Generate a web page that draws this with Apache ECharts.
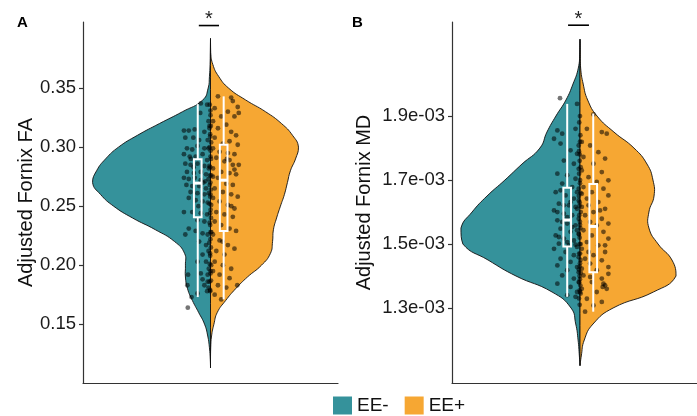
<!DOCTYPE html>
<html><head><meta charset="utf-8">
<script src="https://cdn.jsdelivr.net/npm/echarts@6/dist/echarts.min.js"></script>
<style>html,body{margin:0;padding:0;background:#fff}#c{width:697px;height:416px}</style>
</head><body><div id="c"></div>
<script>
// ---------- data ----------
const groups = ['EE-', 'EE+'];
const groupColors = ['#35929b', '#f6a733'];

const faTicks = [0.15, 0.20, 0.25, 0.30, 0.35];
const mdTicks = [1.3e-3, 1.5e-3, 1.7e-3, 1.9e-3];

// violin density outlines (value grid, top to bottom; half-width in x units)
const faGrid = [0.392,0.38,0.37,0.36,0.35,0.34,0.33,0.32,0.31,0.30,0.29,0.28,0.27,0.26,0.25,0.24,0.23,0.22,0.21,0.20,0.19,0.18,0.17,0.16,0.15,0.14,0.13,0.12,0.113];
const faDensMinus = [0,0.001,0.002,0.005,0.011,0.036,0.132,0.240,0.344,0.433,0.494,0.536,0.555,0.518,0.456,0.367,0.259,0.169,0.122,0.118,0.118,0.108,0.085,0.056,0.028,0.013,0.005,0.001,0];
const faDensPlus  = [0,0.001,0.011,0.038,0.085,0.165,0.259,0.334,0.386,0.414,0.400,0.376,0.362,0.348,0.329,0.311,0.296,0.292,0.282,0.240,0.174,0.118,0.071,0.032,0.016,0.005,0.001,0,0];

// MD values in units of 1e-3
const mdGrid = [2.14,2.10,2.05,2.00,1.95,1.90,1.85,1.80,1.75,1.70,1.65,1.60,1.55,1.50,1.45,1.40,1.35,1.30,1.25,1.20,1.15,1.12];
const mdDensMinus = [0,0.001,0.008,0.033,0.066,0.113,0.155,0.188,0.272,0.352,0.436,0.506,0.558,0.549,0.431,0.300,0.131,0.042,0.020,0.009,0.003,0];
const mdDensPlus  = [0,0.001,0.003,0.015,0.036,0.080,0.159,0.253,0.314,0.342,0.347,0.323,0.323,0.366,0.431,0.450,0.344,0.155,0.061,0.020,0.006,0];

// box stats: [lower whisker, Q1, median, Q3, upper whisker]
const faBoxMinus = [0.173, 0.2407, 0.2695, 0.2898, 0.3364];
const faBoxPlus  = [0.171, 0.229, 0.272, 0.3020, 0.343];
const mdBoxMinus = [1.335, 1.492, 1.575, 1.676, 1.938];
const mdBoxPlus  = [1.2885, 1.412, 1.555, 1.6875, 1.908];

// observations: [jitter (-1..1), value]
const faPtsMinus = [[0.22,0.337],[0.68,0.336],[0.18,0.329],[-1.0,0.314],[-0.65,0.314],[-0.22,0.315],[0.48,0.313],[0.78,0.322],[0.85,0.316],[-0.9,0.308],[-0.32,0.308],[0.1,0.306],[0.72,0.306],[-0.78,0.299],[-0.4,0.298],[-0.02,0.301],[0.48,0.299],[0.78,0.299],[-1.0,0.294],[-0.58,0.292],[-0.15,0.292],[0.35,0.294],[0.68,0.289],[-0.9,0.286],[-0.52,0.285],[-0.02,0.286],[0.48,0.284],[0.8,0.282],[-0.78,0.279],[-0.28,0.278],[0.22,0.279],[0.6,0.277],[-1.0,0.274],[-0.65,0.273],[-0.22,0.274],[0.22,0.272],[0.78,0.273],[-0.82,0.268],[-0.4,0.267],[0.1,0.267],[0.6,0.265],[-0.52,0.262],[-0.02,0.261],[0.48,0.260],[0.8,0.261],[-0.65,0.257],[-0.15,0.255],[0.35,0.254],[0.72,0.253],[-1.0,0.245],[-0.4,0.245],[0.22,0.244],[0.68,0.243],[-0.02,0.238],[0.48,0.237],[-0.65,0.231],[-0.15,0.229],[0.35,0.227],[0.72,0.226],[-0.9,0.226],[0.1,0.220],[0.6,0.217],[0.78,0.212],[0.35,0.209],[-0.02,0.203],[0.6,0.203],[0.8,0.197],[-0.7,0.192],[0.22,0.193],[0.72,0.192],[-0.75,0.183],[0.48,0.183],[0.78,0.181],[-0.45,0.173],[-0.02,0.176],[0.68,0.178],[-0.72,0.164],[0.72,0.186],[0.35,0.188],
  [0.92,0.331],[0.95,0.318],[0.9,0.311],[0.97,0.304],[0.93,0.297],[0.96,0.290],[0.9,0.283],[0.98,0.276],[0.92,0.270],[0.95,0.264],[0.9,0.258],[0.97,0.251],[0.93,0.247],[0.96,0.240],[0.9,0.234],[0.98,0.228],[0.92,0.222],[0.95,0.215],[0.9,0.208],[0.97,0.200],[0.93,0.195],[0.96,0.187],[0.9,0.179],[0.55,0.271],[-0.3,0.283],[0.05,0.250],[-0.5,0.290],[0.4,0.270]];
const faPtsPlus = [[-0.40,0.343],[0.49,0.342],[0.60,0.339],[0.93,0.334],[-0.62,0.333],[0.27,0.330],[0.71,0.326],[-0.18,0.326],[-0.73,0.322],[1.0,0.329],[0.16,0.319],[-0.40,0.316],[0.49,0.313],[0.82,0.310],[-0.62,0.308],[-0.07,0.303],[0.38,0.305],[0.93,0.302],[-0.73,0.299],[-0.29,0.296],[0.27,0.295],[0.71,0.294],[-0.51,0.291],[0.04,0.288],[0.60,0.285],[1.0,0.285],[-0.73,0.282],[-0.18,0.279],[0.38,0.278],[0.82,0.277],[-0.40,0.274],[0.71,0.281],[0.38,0.289],[-0.73,0.275],[0.16,0.269],[0.60,0.268],[-0.62,0.265],[-0.07,0.262],[0.49,0.260],[0.93,0.258],[-0.73,0.257],[-0.29,0.254],[0.27,0.251],[0.71,0.248],[-0.51,0.245],[0.04,0.243],[0.60,0.241],[-0.62,0.237],[-0.18,0.234],[0.38,0.231],[0.82,0.229],[-0.73,0.226],[-0.29,0.221],[0.27,0.217],[0.71,0.214],[-0.51,0.212],[0.04,0.209],[-0.62,0.203],[-0.07,0.200],[0.49,0.197],[-0.73,0.195],[-0.29,0.192],[0.38,0.189],[-0.40,0.183],[0.16,0.181],[-0.62,0.175],[-0.18,0.171],[0.9,0.183],
  [-0.95,0.336],[-0.9,0.327],[-0.97,0.318],[-0.92,0.309],[-0.96,0.300],[-0.9,0.292],[-0.98,0.284],[-0.93,0.276],[-0.95,0.268],[-0.9,0.260],[-0.97,0.252],[-0.92,0.244],[-0.96,0.236],[-0.9,0.228],[-0.98,0.219],[-0.93,0.210],[-0.95,0.201],[-0.9,0.193],[-0.97,0.186],[-0.92,0.178],[0.2,0.290],[0.5,0.250],[-0.1,0.220]];
const mdPtsMinus = [[-0.52,1.956],[0.71,1.938],[-0.71,1.855],[-0.36,1.845],[-0.95,1.829],[-0.48,1.814],[0.60,1.860],[0.83,1.808],[0.24,1.793],[0.71,1.782],[-0.24,1.761],[0.48,1.751],[0.83,1.735],[-0.71,1.720],[0.0,1.715],[0.60,1.704],[-0.36,1.689],[0.36,1.678],[0.83,1.673],[-0.83,1.662],[-0.12,1.652],[0.48,1.642],[0.83,1.636],[-0.60,1.626],[0.12,1.621],[0.71,1.610],[-0.95,1.605],[-0.24,1.595],[0.36,1.590],[-0.48,1.668],[0.24,1.631],[0.60,1.616],[-0.71,1.600],[0.0,1.584],[0.71,1.662],[-0.24,1.621],[0.83,1.579],[-0.71,1.574],[0.0,1.564],[0.60,1.558],[-0.48,1.548],[0.24,1.538],[0.83,1.532],[-0.83,1.527],[-0.24,1.517],[0.48,1.511],[-0.60,1.501],[0.12,1.496],[-0.36,1.569],[0.36,1.553],[0.71,1.543],[-0.60,1.522],[0.0,1.506],[0.60,1.498],[0.71,1.491],[-0.95,1.485],[-0.12,1.475],[0.48,1.465],[0.83,1.459],[-0.48,1.454],[0.24,1.444],[-0.71,1.433],[0.71,1.428],[0.0,1.418],[0.83,1.412],[-0.36,1.402],[0.48,1.392],[0.83,1.381],[-0.71,1.376],[0.24,1.366],[0.71,1.350],[0.0,1.340],[0.60,1.335],
  [0.92,1.900],[0.95,1.840],[0.9,1.780],[0.97,1.740],[0.93,1.700],[0.96,1.660],[0.9,1.630],[0.98,1.600],[0.92,1.570],[0.95,1.550],[0.9,1.520],[0.97,1.500],[0.93,1.470],[0.96,1.450],[0.9,1.430],[0.98,1.410],[0.92,1.390],[0.95,1.370],[0.9,1.355],[0.97,1.345]];
const mdPtsPlus = [[0,1.905],[-0.44,1.860],[0.56,1.850],[-0.78,1.819],[0.89,1.845],[-0.22,1.808],[0.33,1.787],[-0.67,1.772],[0.78,1.767],[0,1.751],[-0.78,1.730],[0.56,1.725],[-0.33,1.709],[1.0,1.699],[0.22,1.694],[-0.67,1.678],[0.67,1.673],[-0.11,1.662],[1.0,1.652],[-0.44,1.642],[0.33,1.631],[-0.78,1.616],[0.78,1.610],[0,1.600],[-0.56,1.590],[0.56,1.579],[-0.22,1.569],[1.0,1.564],[0.22,1.558],[-0.78,1.657],[0.44,1.605],[-0.33,1.621],[-0.67,1.543],[0.67,1.538],[-0.11,1.527],[1.0,1.517],[-0.44,1.506],[0.33,1.496],[-0.78,1.485],[0.78,1.475],[0,1.465],[-0.56,1.454],[0.56,1.449],[-0.22,1.439],[1.0,1.428],[0.22,1.418],[-0.78,1.423],[0.78,1.496],[-0.33,1.475],[-0.67,1.402],[0.56,1.392],[0.67,1.376],[0.78,1.371],[0.62,1.366],[0.89,1.360],[-0.11,1.381],[-0.78,1.360],[0.22,1.350],[-0.44,1.329],[0,1.308],[0.56,1.319],[-0.56,1.2885],[1.0,1.407],[-0.22,1.397],
  [-0.95,1.880],[-0.9,1.820],[-0.97,1.790],[-0.92,1.760],[-0.96,1.720],[-0.9,1.690],[-0.98,1.650],[-0.93,1.620],[-0.95,1.590],[-0.9,1.560],[-0.97,1.530],[-0.92,1.500],[-0.96,1.470],[-0.9,1.440],[-0.98,1.420],[-0.93,1.400],[-0.95,1.380],[-0.9,1.350],[-0.97,1.330],[-0.92,1.310]];

// significance annotations: [x-from, x-to, value] per panel
const faSig = [[0.945, 1.04, 0.403]];
const mdSig = [[0.944, 1.042, 2.184]];
const MD_UNIT = 1e-3;

// ---------- layout / style ----------
const CENTER = 1;
const BOX_OFF = [-0.06, 0.062];
const BOX_HALF = 0.018;
const PT_OFF = [-0.06, 0.063];
const PT_HALF = [0.065, 0.07];
const FONT = 'Liberation Sans, Arial, Helvetica, sans-serif';
const AXIS_COLOR = '#333';

function violin(name, color, gi, grid, dens, side, scale) {
  return {
    type: 'custom', name: name, xAxisIndex: gi, yAxisIndex: gi, silent: true,
    itemStyle: { color: color }, z: 1,
    data: [[CENTER, grid[0] * scale]],
    renderItem: function (params, api) {
      const pts = grid.map(function (v, i) { return api.coord([CENTER + side * dens[i], v * scale]); });
      let minX = Infinity, minY = Infinity, maxX = -Infinity, maxY = -Infinity;
      pts.forEach(function (p) { minX = Math.min(minX, p[0]); maxX = Math.max(maxX, p[0]); minY = Math.min(minY, p[1]); maxY = Math.max(maxY, p[1]); });
      return { type: 'polygon', shape: { points: pts, smooth: 0.5, smoothConstraint: [[minX, minY], [maxX, maxY]] },
        style: { fill: color, stroke: '#111', lineWidth: 0.9 } };
    }
  };
}
function box(gi, stats, off, scale) {
  return {
    type: 'custom', name: 'box' + gi + off, xAxisIndex: gi, yAxisIndex: gi, silent: true, z: 4,
    data: [[CENTER + off, stats[2] * scale]],
    renderItem: function (params, api) {
      const x = CENTER + off;
      const s = stats.map(function (v) { return v * scale; });
      const lo = api.coord([x, s[0]]), q1 = api.coord([x - BOX_HALF, s[1]]), q3 = api.coord([x + BOX_HALF, s[3]]);
      const hi = api.coord([x, s[4]]), m1 = api.coord([x - BOX_HALF, s[2]]), m2 = api.coord([x + BOX_HALF, s[2]]);
      const st = { stroke: '#fff', lineWidth: 2, fill: null };
      return { type: 'group', children: [
        { type: 'line', shape: { x1: hi[0], y1: hi[1], x2: hi[0], y2: q3[1] }, style: st },
        { type: 'line', shape: { x1: lo[0], y1: q1[1], x2: lo[0], y2: lo[1] }, style: st },
        { type: 'rect', shape: { x: q1[0], y: q3[1], width: q3[0] - q1[0], height: q1[1] - q3[1] }, style: st },
        { type: 'line', shape: { x1: m1[0], y1: m1[1], x2: m2[0], y2: m2[1] }, style: { stroke: '#fff', lineWidth: 3 } }
      ] };
    }
  };
}
function points(gi, pts, k, scale) {
  return {
    type: 'scatter', name: 'pts' + gi + k, xAxisIndex: gi, yAxisIndex: gi, silent: true, z: 3,
    symbolSize: 4.8, itemStyle: { color: 'rgba(0,0,0,0.68)' },
    data: pts.map(function (p) { return [CENTER + PT_OFF[k] + p[0] * PT_HALF[k], p[1] * scale]; })
  };
}
function sig(gi, items, scale) {
  return {
    type: 'custom', name: 'sig' + gi, xAxisIndex: gi, yAxisIndex: gi, silent: true, z: 5,
    data: items.map(function (d) { return [d[0], d[1], d[2] * scale]; }),
    encode: { x: [0, 1], y: 2 },
    renderItem: function (params, api) {
      const a = api.coord([api.value(0), api.value(2)]);
      const b = api.coord([api.value(1), api.value(2)]);
      return { type: 'group', children: [
        { type: 'line', shape: { x1: a[0], y1: a[1], x2: b[0], y2: b[1] }, style: { stroke: '#000', lineWidth: 1.6 } },
        { type: 'text', x: (a[0] + b[0]) / 2, y: a[1] + 4, style: { text: '*', fontSize: 20, fontFamily: FONT, fill: '#222', align: 'center', verticalAlign: 'bottom' } }
      ] };
    }
  };
}
function yAxis(gi, min, max, ticks, name, gap, fmt) {
  return {
    gridIndex: gi, type: 'value', min: min, max: max,
    name: name, nameLocation: 'middle', nameGap: gap,
    nameTextStyle: { fontSize: 20, color: '#111', fontFamily: FONT },
    axisLine: { show: true, onZero: false, lineStyle: { color: AXIS_COLOR, width: 1.2 } },
    axisTick: { show: true, length: 4, customValues: ticks, lineStyle: { color: AXIS_COLOR, width: 1.2 } },
    axisLabel: { customValues: ticks, margin: 7, fontSize: 18.5, color: '#1a1a1a', fontFamily: FONT, formatter: fmt },
    splitLine: { show: false }
  };
}
function xAxis(gi, max) {
  return {
    gridIndex: gi, type: 'value', min: 0.4, max: max,
    axisLine: { show: true, onZero: false, lineStyle: { color: AXIS_COLOR, width: 1.2 } },
    axisTick: { show: false }, axisLabel: { show: false }, splitLine: { show: false }
  };
}

const chart = echarts.init(document.getElementById('c'), null, { renderer: 'canvas' });
chart.setOption({
  animation: false,
  backgroundColor: '#fff',
  textStyle: { fontFamily: FONT },
  title: [
    { text: 'A', left: 17, top: 15, padding: 0, textStyle: { fontSize: 15, fontWeight: 'bold', color: '#000', fontFamily: FONT } },
    { text: 'B', left: 352, top: 15, padding: 0, textStyle: { fontSize: 15, fontWeight: 'bold', color: '#000', fontFamily: FONT } }
  ],
  legend: {
    data: groups, left: 333, top: 396, padding: 0, icon: 'rect',
    itemWidth: 19, itemHeight: 18, itemGap: 16,
    itemStyle: { borderWidth: 0 },
    textStyle: { fontSize: 19, color: '#111', fontFamily: FONT }
  },
  grid: [
    { left: 83, top: 22, width: 255, height: 361 },
    { left: 452, top: 22, width: 245, height: 361 }
  ],
  xAxis: [xAxis(0, 1.6), xAxis(1, 1.5484)],
  yAxis: [
    yAxis(0, 0.1002, 0.406, faTicks, 'Adjusted Fornix FA', 47, function (v) { return v.toFixed(2); }),
    yAxis(1, 1.0656e-3, 2.194e-3, mdTicks, 'Adjusted Fornix MD', 78, function (v) { return (v / MD_UNIT).toFixed(1) + 'e-03'; })
  ],
  series: [
    violin(groups[0], groupColors[0], 0, faGrid, faDensMinus, -1, 1),
    violin(groups[1], groupColors[1], 0, faGrid, faDensPlus, 1, 1),
    violin(groups[0], groupColors[0], 1, mdGrid, mdDensMinus, -1, MD_UNIT),
    violin(groups[1], groupColors[1], 1, mdGrid, mdDensPlus, 1, MD_UNIT),
    points(0, faPtsMinus, 0, 1),
    points(0, faPtsPlus, 1, 1),
    points(1, mdPtsMinus, 0, MD_UNIT),
    points(1, mdPtsPlus, 1, MD_UNIT),
    box(0, faBoxMinus, BOX_OFF[0], 1),
    box(0, faBoxPlus, BOX_OFF[1], 1),
    box(1, mdBoxMinus, BOX_OFF[0], MD_UNIT),
    box(1, mdBoxPlus, BOX_OFF[1], MD_UNIT),
    sig(0, faSig, 1),
    sig(1, mdSig, MD_UNIT)
  ]
});
</script>
</body></html>
